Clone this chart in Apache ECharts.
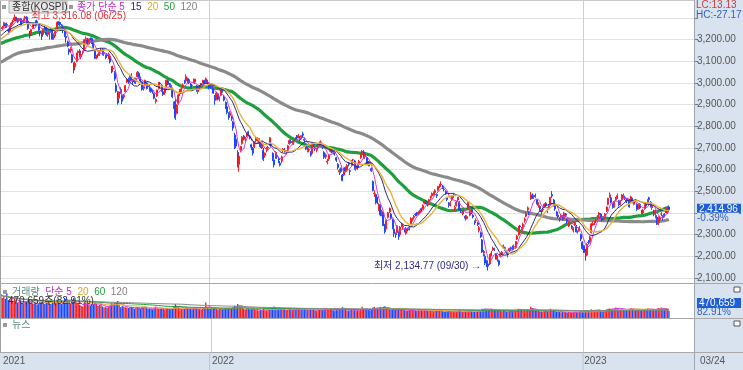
<!DOCTYPE html>
<html><head><meta charset="utf-8">
<script src="https://cdn.jsdelivr.net/npm/echarts@6/dist/echarts.min.js"></script>
<style>html,body{margin:0;padding:0;background:#fff}#c{width:743px;height:370px}</style>
</head><body><div id="c"></div>
<script>
// ---------------- DATA ----------------
const yearLabels = ['2021', '2022', '2023'];
const yearStartIdx = [0, 138, 384];
const lastDateLabel = '03/24';
const totalSlots = 457;
const gridValues = [2100,2200,2300,2400,2500,2600,2700,2800,2900,3000,3100,3200,3300];
const labelValues = [2100,2200,2300,2400,2500,2600,2700,2800,2900,3000,3100,3200];
const maPeriods = [5, 15, 20, 50, 120];
const volMaPeriods = [5, 20, 60, 120];
const hiDate = '06/25';
const loDate = '09/30';
const lcText = 'LC:13.13';
const hcText = 'HC:-27.17';

// closes before the visible range (Dec 2020 - 11 Jun 2021), used only for moving averages
const preCloses = [2771,2772,2778,2733,2759,2806,2808,2820,2873,
2944,2990,2968,3031,3152,3148,3125,3148,3149,3085,3013,3092,3114,3160,3140,3208,3140,3122,3069,2976,
3056,3096,3129,3087,3120,3091,3084,3100,3147,3163,3133,3086,3107,3079,3070,2994,3099,3013,
3043,3082,3043,3026,2996,2976,2958,3013,3054,3045,3067,3047,3066,3039,3035,3004,2996,3008,3041,3036,3044,3061,
3087,3112,3120,3127,3137,3143,3131,3135,3169,3182,3194,3198,3198,3220,3171,3177,3186,3217,3215,3181,3174,3147,
3127,3147,3178,3197,3249,3209,3161,3122,3153,3134,3173,3162,3156,3144,3168,3165,3165,3188,3204,
3221,3224,3247,3240,3253,3247,3216,3224,3249];

// daily candles [open, close, low, high]
const candles2021 = [
[3254,3252,3238,3262],[3254,3255,3243,3264],[3262,3278,3255,3282],[3270,3264,3253,3276],[3270,3267,3255,3279],[3245,3240,3224,3252],[3238,3263,3230,3266],[3266,3276,3258,3282],[3281,3286,3270,3293],[3291,3302,3285,3316.08],[3304,3294,3285,3305],[3297,3286,3276,3299],[3288,3297,3281,3300],
[3296,3282,3268,3300],[3285,3281,3265,3290],[3285,3293,3278,3298],[3298,3305,3290,3310],[3304,3285,3278,3308],[3286,3252,3245,3290],[3230,3217,3206,3240],[3225,3246,3222,3250],[3255,3271,3250,3276],[3270,3264,3254,3275],[3268,3286,3262,3290],[3285,3276,3268,3292],[3270,3244,3240,3272],[3238,3232,3215,3240],[3225,3215,3199,3232],[3225,3250,3222,3253],[3255,3254,3245,3266],[3255,3224,3218,3257],[3225,3232,3213,3238],[3225,3236,3200,3240],[3245,3243,3232,3256],[3240,3202,3200,3244],
[3208,3223,3200,3226],[3228,3237,3215,3240],[3245,3280,3242,3281],[3283,3276,3266,3286],[3280,3270,3262,3283],[3268,3260,3250,3272],[3260,3243,3230,3265],[3250,3220,3212,3255],[3215,3208,3186,3220],[3190,3171,3165,3196],[3155,3143,3130,3160],[3150,3158,3138,3165],[3130,3097,3092,3135],[3090,3060,3045,3095],[3075,3090,3065,3100],[3100,3138,3095,3140],[3140,3146,3128,3150],[3148,3128,3120,3155],[3120,3133,3110,3140],[3140,3144,3130,3150],[3150,3199,3148,3203],
[3205,3207,3192,3215],[3200,3175,3170,3208],[3180,3201,3178,3205],[3205,3203,3195,3210],[3205,3187,3180,3210],[3185,3162,3155,3190],[3150,3114,3110,3155],[3120,3125,3110,3130],[3130,3127,3115,3135],[3130,3149,3125,3152],[3150,3153,3140,3160],[3155,3130,3128,3160],[3135,3140,3125,3145],[3120,3127,3110,3132],[3130,3125,3115,3135],[3125,3133,3110,3140],[3125,3097,3090,3130],[3070,3060,3045,3078],[3065,3068,3050,3080],
[3050,3019,3010,3055],[2990,2962,2955,3000],[2955,2908,2900,2962],[2930,2959,2925,2962],[2970,2956,2950,2980],[2945,2916,2902,2955],[2935,2944,2925,2950],[2960,2988,2955,2990],[3005,3015,3000,3020],[3015,3006,2995,3025],[3010,3033,3005,3040],[3035,3013,3008,3045],[3010,3007,2995,3018],[3015,3006,2998,3025],[3005,3020,2995,3025],[3030,3049,3025,3055],[3045,3025,3018,3052],[3020,3009,3002,3030],[3005,2970,2965,3010],
[2975,2983,2965,2990],[2990,3013,2985,3015],[3000,2975,2970,3005],[2985,2983,2975,2995],[2980,2969,2960,2990],[2975,2960,2955,2980],[2965,2962,2950,2970],[2950,2930,2925,2955],[2915,2924,2905,2930],[2940,2968,2935,2970],[2975,2999,2970,3005],[3000,2997,2985,3005],[2990,2962,2960,2995],[2960,2947,2940,2970],[2955,2971,2945,2975],[2980,3013,2975,3015],[3010,2997,2990,3015],[2995,2994,2980,3000],[2990,2980,2975,2998],[2965,2936,2930,2970],[2900,2909,2880,2915],[2915,2839,2830,2925],
[2860,2899,2855,2902],[2905,2945,2900,2950],[2950,2968,2940,2972],[2960,2973,2950,2978],[2985,2991,2975,2998],[3010,3001,2995,3015],[3010,3029,3005,3040],[3020,3010,3000,3025],[3015,3001,2995,3020],[2995,2987,2980,3000],[2990,2989,2975,2995],[3010,3006,2998,3020],[3005,3017,2995,3020],[2985,2963,2960,2990],[2960,2975,2950,2978],[2985,2984,2970,2990],[2990,2998,2985,3000],[3005,3012,3000,3015],[3010,2999,2995,3015],[3000,3020,2995,3025],[3010,3000,2995,3015],[2990,2977,2970,2995]
];
const candles2022 = [
[2990,2989,2975,2995],[2985,2990,2970,2998],[2985,2953,2950,2990],[2935,2920,2900,2945],[2925,2954,2920,2960],[2950,2926,2920,2955],[2925,2927,2915,2935],[2945,2972,2940,2975],[2970,2962,2955,2980],[2935,2921,2915,2945],[2910,2890,2880,2915],[2890,2864,2855,2895],[2855,2842,2830,2865],[2850,2862,2840,2870],[2845,2834,2825,2850],[2820,2792,2780,2825],[2760,2720,2695,2770],[2740,2709,2700,2750],[2680,2614,2610,2690],[2625,2663,2591,2670],
[2690,2707,2680,2710],[2720,2750,2715,2755],[2755,2745,2735,2760],[2740,2746,2730,2750],[2755,2768,2750,2770],[2775,2771,2760,2780],[2755,2747,2740,2760],[2715,2704,2690,2720],[2700,2676,2665,2705],[2705,2729,2700,2730],[2735,2744,2725,2750],[2735,2744,2730,2750],[2730,2743,2720,2745],[2725,2706,2700,2730],[2700,2719,2695,2725],[2690,2648,2640,2700],[2665,2676,2655,2680],[2690,2699,2680,2705],
[2700,2703,2690,2710],[2715,2747,2710,2750],[2720,2713,2705,2730],[2675,2651,2640,2680],[2645,2622,2610,2650],[2660,2680,2650,2685],[2665,2661,2650,2670],[2650,2645,2630,2660],[2630,2621,2615,2640],[2640,2659,2630,2665],[2690,2695,2680,2700],[2690,2686,2680,2700],[2685,2686,2670,2690],[2690,2710,2685,2715],[2720,2735,2715,2740],[2730,2729,2720,2740],[2725,2729,2715,2735],[2730,2729,2715,2735],[2740,2741,2730,2750],[2755,2746,2740,2760],[2755,2757,2745,2765],
[2745,2739,2730,2755],[2750,2757,2740,2760],[2765,2759,2750,2775],[2740,2735,2725,2745],[2715,2695,2690,2720],[2690,2700,2680,2705],[2690,2693,2680,2700],[2680,2667,2660,2685],[2675,2716,2670,2720],[2720,2716,2705,2725],[2700,2696,2685,2705],[2690,2693,2680,2700],[2700,2718,2695,2720],[2720,2718,2710,2730],[2725,2728,2715,2735],[2710,2704,2695,2715],[2680,2657,2650,2685],[2660,2668,2650,2675],[2635,2639,2625,2650],[2650,2667,2640,2670],[2685,2695,2680,2700],
[2690,2687,2675,2700],[2690,2680,2670,2695],[2680,2677,2665,2690],[2655,2644,2635,2660],[2625,2610,2600,2630],[2590,2596,2575,2605],[2605,2592,2585,2610],[2575,2550,2546,2580],[2575,2604,2570,2610],[2610,2596,2590,2615],[2600,2620,2595,2625],[2630,2625,2615,2635],[2595,2592,2575,2600],[2620,2639,2615,2645],[2645,2647,2635,2650],[2640,2605,2600,2645],[2605,2617,2595,2620],[2620,2612,2600,2625],[2630,2638,2625,2645],[2655,2670,2650,2675],[2670,2685,2660,2690],
[2680,2658,2650,2690],[2660,2670,2650,2675],[2655,2626,2620,2660],[2630,2626,2615,2640],[2630,2625,2615,2635],[2605,2595,2590,2610],[2545,2504,2500,2550],[2490,2492,2475,2505],[2485,2447,2440,2490],[2460,2451,2440,2475],[2420,2440,2410,2445],[2435,2391,2385,2440],[2395,2408,2385,2415],[2400,2342,2340,2405],[2345,2314,2305,2350],[2330,2366,2325,2370],[2380,2401,2375,2405],[2405,2422,2400,2425],[2395,2377,2370,2400],[2370,2332,2325,2375],
[2325,2305,2290,2330],[2305,2300,2285,2310],[2310,2341,2305,2345],[2310,2292,2276,2315],[2300,2335,2295,2340],[2345,2350,2335,2355],[2335,2340,2325,2345],[2325,2317,2310,2330],[2305,2328,2300,2335],[2325,2322,2315,2330],[2335,2330,2320,2340],[2350,2375,2345,2380],[2365,2370,2360,2380],[2380,2386,2370,2390],[2395,2393,2385,2400],[2400,2393,2385,2405],[2395,2403,2390,2410],[2400,2412,2395,2415],[2420,2415,2405,2425],[2420,2435,2415,2440],[2445,2452,2440,2455],
[2455,2452,2440,2460],[2445,2439,2430,2450],[2440,2461,2435,2465],[2470,2473,2460,2480],[2480,2490,2475,2495],[2485,2493,2480,2500],[2495,2503,2485,2510],[2485,2480,2470,2490],[2505,2523,2500,2525],[2525,2527,2515,2535],[2530,2533,2520,2546],[2525,2516,2510,2530],[2510,2508,2500,2520],[2500,2492,2485,2505],[2470,2462,2455,2475],[2440,2435,2425,2450],[2440,2447,2430,2455],[2460,2477,2455,2480],[2480,2481,2470,2490],[2420,2426,2410,2435],[2435,2450,2430,2455],[2460,2472,2450,2475],
[2450,2415,2410,2455],[2410,2409,2400,2420],[2400,2403,2390,2410],[2410,2410,2395,2420],[2385,2376,2365,2390],[2375,2384,2370,2390],[2420,2449,2415,2450],[2390,2411,2385,2415],[2415,2401,2395,2420],[2390,2382,2375,2395],[2360,2355,2345,2365],[2365,2367,2355,2375],[2355,2347,2340,2360],[2320,2332,2310,2340],[2310,2290,2285,2315],[2275,2220,2215,2280],[2215,2223,2200,2230],[2200,2169,2160,2210],[2180,2170,2150,2185],[2165,2155,2134.77,2170],
[2165,2209,2160,2210],[2205,2215,2200,2225],[2230,2237,2225,2245],[2235,2232,2225,2240],[2210,2192,2185,2215],[2185,2202,2175,2205],[2180,2162,2155,2185],[2200,2212,2195,2215],[2210,2219,2205,2225],[2240,2249,2235,2255],[2240,2237,2225,2245],[2225,2218,2210,2230],[2210,2213,2195,2220],[2225,2236,2220,2240],[2240,2235,2225,2245],[2240,2235,2230,2250],[2245,2245,2235,2255],[2240,2268,2235,2270],[2280,2293,2275,2300],
[2300,2335,2295,2340],[2340,2336,2330,2345],[2310,2329,2305,2335],[2335,2348,2330,2355],[2365,2371,2355,2380],[2385,2399,2380,2405],[2415,2424,2405,2430],[2405,2402,2390,2410],[2465,2484,2460,2497],[2480,2474,2465,2490],[2475,2480,2465,2485],[2480,2477,2470,2490],[2460,2442,2440,2465],[2435,2444,2425,2450],[2430,2419,2410,2435],[2410,2405,2395,2415],[2415,2418,2405,2425],[2430,2441,2425,2445],[2445,2437,2430,2450],[2410,2408,2400,2420],[2420,2433,2415,2440],[2440,2472,2435,2475],
[2485,2479,2470,2501],[2460,2434,2430,2465],[2440,2419,2410,2445],[2405,2393,2385,2410],[2390,2382,2375,2395],[2375,2371,2360,2380],[2380,2389,2375,2395],[2385,2372,2365,2390],[2375,2399,2370,2405],[2395,2390,2380,2400],[2370,2361,2350,2375],[2340,2360,2335,2365],[2350,2352,2340,2360],[2340,2333,2325,2345],[2320,2328,2310,2335],[2345,2356,2340,2360],[2340,2313,2310,2345],[2315,2317,2305,2320],[2320,2332,2315,2340],[2300,2280,2270,2305],[2265,2236,2230,2270]
];
const candles2023 = [
[2249,2225,2215,2252],[2230,2218,2180,2235],[2205,2255,2200,2260],[2265,2264,2255,2275],[2265,2289,2260,2295],[2310,2350,2305,2355],[2345,2351,2340,2360],[2355,2359,2345,2365],[2365,2365,2355,2375],[2375,2386,2370,2390],[2390,2399,2385,2405],[2395,2379,2375,2400],[2380,2368,2360,2385],[2370,2380,2365,2385],[2385,2395,2380,2400],[2410,2428,2405,2430],[2440,2468,2435,2470],[2475,2484,2470,2495],[2470,2450,2445,2475],[2440,2425,2420,2445],
[2430,2449,2425,2455],[2460,2468,2455,2475],[2470,2480,2465,2490],[2455,2438,2430,2460],[2440,2452,2435,2460],[2460,2483,2455,2488],[2480,2481,2470,2490],[2470,2469,2460,2480],[2460,2453,2445,2470],[2465,2465,2455,2470],[2460,2428,2425,2465],[2450,2475,2445,2480],[2465,2451,2445,2470],[2440,2455,2435,2460],[2460,2458,2450,2465],[2440,2417,2410,2445],[2420,2439,2415,2445],[2440,2423,2420,2445],[2410,2402,2395,2415],[2400,2412,2395,2420],
[2420,2432,2415,2440],[2440,2432,2425,2445],[2445,2462,2440,2465],[2470,2463,2455,2475],[2450,2431,2425,2455],[2425,2432,2415,2440],[2410,2394,2385,2415],[2395,2410,2375,2415],[2380,2348,2345,2390],[2350,2379,2345,2385],[2370,2377,2355,2385],[2395,2395,2385,2405],[2385,2379,2365,2390],[2395,2389,2380,2400],[2410,2417,2400,2420],[2400,2424.48,2395,2430],[2428,2414.96,2410,2435]
];

// daily volume (in units of 1,000 of the displayed count)
const vol2021 = [1500,1300,1400,1250,1600,1150,1200,1350,1100,1300,1150,1000,1050,
1150,1000,950,1100,1050,1200,1150,1000,950,900,950,880,920,1000,1050,1000,900,1100,1000,950,900,1050,
1050,980,1200,1000,950,900,1050,1300,1250,1200,1100,950,1150,1300,1100,1000,900,850,800,750,950,
1000,950,850,800,850,900,1050,950,800,850,900,750,700,700,680,700,850,950,900,
950,1000,1100,850,700,800,750,700,680,650,700,720,680,600,650,700,680,620,700,
650,700,680,600,620,580,560,700,750,650,600,580,620,600,550,650,620,580,560,600,750,900,
800,700,650,600,620,580,700,650,600,580,560,620,650,600,580,560,550,620,700,1000,650,600];
const vol2022 = [600,700,650,700,600,550,580,620,560,580,620,650,600,580,620,700,800,750,900,800,
750,700,600,550,580,600,550,560,600,580,520,500,480,520,500,600,520,480,
550,600,620,700,750,650,600,580,620,600,650,580,520,540,600,560,500,520,540,560,580,
560,520,600,620,580,540,520,560,600,540,500,480,560,520,540,500,560,520,600,560,580,
520,500,480,560,620,600,580,700,650,520,500,480,540,560,500,520,480,500,460,560,720,
580,520,560,540,500,560,680,720,650,640,620,700,580,720,760,650,600,560,520,560,
600,550,560,620,580,540,520,500,480,460,480,520,560,500,480,460,520,500,480,540,560,
520,480,500,460,480,440,460,480,500,520,480,440,420,400,420,460,440,420,400,480,420,440,
520,460,420,400,440,400,480,520,460,440,420,400,460,480,520,600,580,620,560,540,
560,600,540,520,480,500,520,460,440,500,460,420,400,440,420,380,440,520,560,
600,560,520,500,480,540,560,520,720,640,560,520,480,460,440,420,400,440,460,420,440,600,
520,480,460,420,440,400,380,400,420,380,360,400,380,340,360,380,360,340,400,460,420];
const vol2023 = [400,420,480,460,440,560,520,500,480,520,540,460,440,420,460,560,600,620,580,560,
620,680,640,600,560,620,580,540,520,560,600,640,600,560,520,500,540,520,500,520,
580,560,620,600,540,520,560,520,600,640,620,680,600,560,620,567.67,470.659];

// ---------------- BUILD ----------------
const candles = candles2021.concat(candles2022, candles2023);
const vols = vol2021.concat(vol2022, vol2023);
const N = candles.length;
const cats = [];
for (let i = 0; i < totalSlots; i++) cats.push(String(i));
const closes = candles.map(d => d[1]);
const allCloses = preCloses.concat(closes);

function movingAvg(arr, p, offset) {
  const out = [];
  for (let i = offset; i < arr.length; i++) {
    let s = 0, n = 0;
    for (let k = Math.max(0, i - p + 1); k <= i; k++) { s += arr[k]; n++; }
    out.push(+(s / n).toFixed(2));
  }
  return out;
}
const fmt2 = v => v.toLocaleString('en-US', {minimumFractionDigits: 2, maximumFractionDigits: 2});
const fmt0 = v => Math.round(v).toLocaleString('en-US');

const NUMF = "'Liberation Sans',Arial,sans-serif";
const KRF = "'Liberation Sans','Noto Sans CJK KR',sans-serif";
const maColors = ['#d23cd2', '#2a2a78', '#e6b43a', '#1e9e3c', '#8a8a8a'];
const maWidths = [1, 1, 1.4, 3.2, 3.2];
const volMaColors = ['#d23cd2', '#e6b43a', '#1e9e3c', '#8a8a8a'];
const UP = '#ff1c1c', DOWN = '#1a48ff';
const STRIP = '#d9e3ef';

const series = [];
maPeriods.forEach((p, k) => {
  series.push({type: 'line', xAxisIndex: 0, yAxisIndex: 0, data: movingAvg(allCloses, p, preCloses.length),
    showSymbol: false, silent: true, z: (p >= 50 ? 2 : 4),
    lineStyle: {color: maColors[k], width: maWidths[k]}});
});
series.push({type: 'candlestick', xAxisIndex: 0, yAxisIndex: 0, data: candles, z: 3, barWidth: 1.5,
  itemStyle: {color: UP, color0: DOWN, borderColor: UP, borderColor0: DOWN, borderWidth: 1}});
series.push({type: 'bar', xAxisIndex: 1, yAxisIndex: 1, barCategoryGap: '12%', silent: true,
  data: vols.map((v, i) => ({value: v, itemStyle: {color: candles[i] && candles[i][1] >= candles[i][0] ? UP : DOWN}}))});
volMaPeriods.forEach((p, k) => {
  series.push({type: 'line', xAxisIndex: 1, yAxisIndex: 1, data: movingAvg(vols, p, 0),
    showSymbol: false, silent: true, z: 4, lineStyle: {color: volMaColors[k], width: 1}});
});
series.push({type: 'line', xAxisIndex: 2, yAxisIndex: 2, data: [], silent: true});

const splitFn = (i) => yearStartIdx.indexOf(i) > 0;
function xAx(g, withLabels) {
  return {type: 'category', gridIndex: g, data: cats, boundaryGap: true,
    axisLine: {show: false}, axisTick: {show: false},
    splitLine: {show: true, interval: splitFn, lineStyle: {color: '#cfcfcf', width: 1}},
    axisLabel: withLabels ? {show: true, interval: (i) => yearStartIdx.indexOf(i) >= 0,
      formatter: (v) => yearLabels[yearStartIdx.indexOf(Number(v))] || '',
      align: 'left', margin: 4, color: '#555', fontSize: 10, fontFamily: NUMF} : {show: false}};
}

const chart = echarts.init(document.getElementById('c'), null, {renderer: 'canvas'});
chart.setOption({
  animation: false,
  backgroundColor: '#ffffff',
  grid: [
    {left: 0, right: 49, top: 0, height: 283},
    {left: 0, right: 49, top: 284, height: 34},
    {left: 0, right: 49, top: 319, height: 33}
  ],
  xAxis: [xAx(0, false), xAx(1, false), xAx(2, true)],
  yAxis: [
    {type: 'value', gridIndex: 0, position: 'right', min: 2077, max: 3383, scale: true,
      axisLine: {show: false},
      axisTick: {show: true, length: 4, customValues: gridValues, lineStyle: {color: '#777'}},
      axisLabel: {show: true, customValues: labelValues, formatter: v => fmt2(v), color: '#555', fontSize: 10, fontFamily: NUMF, margin: 3},
      splitLine: {show: true, lineStyle: {color: '#e3e3e3', width: 1}}},
    {type: 'value', gridIndex: 1, min: 0, max: 2200, show: false},
    {type: 'value', gridIndex: 2, min: 0, max: 1, show: false}
  ],
  series: series
});

// ---------------- ANNOTATIONS ----------------
let hiIdx = 0, loIdx = 0;
candles.forEach((d, i) => { if (d[3] > candles[hiIdx][3]) hiIdx = i; if (d[2] < candles[loIdx][2]) loIdx = i; });
const hiVal = candles[hiIdx][3], loVal = candles[loIdx][2];
const hiPx = chart.convertToPixel({xAxisIndex: 0, yAxisIndex: 0}, [hiIdx, hiVal]);
const loPx = chart.convertToPixel({xAxisIndex: 0, yAxisIndex: 0}, [loIdx, loVal]);
const lastClose = closes[N - 1], prevClose = closes[N - 2];
const lastPx = chart.convertToPixel({xAxisIndex: 0, yAxisIndex: 0}, [N - 1, lastClose]);
const chg = (lastClose - prevClose) / prevClose * 100;
const lastVol = vols[N - 1], prevVol = vols[N - 2];
const volPct = lastVol / prevVol * 100;

const W = 743, H = 370;
function txt(x, y, text, fill, size, align, extra) {
  return Object.assign({type: 'text', x: x, y: y, z: 100, silent: true,
    style: Object.assign({text: text, fill: fill, fontSize: size || 10, fontFamily: KRF, align: align || 'left', verticalAlign: 'middle'}, extra || {})});
}
function ln(x1, y1, x2, y2, c) {
  return {type: 'line', z: 90, silent: true, shape: {x1: x1, y1: y1, x2: x2, y2: y2}, style: {stroke: c, lineWidth: 1}};
}
function sq(x, y) {
  return {type: 'rect', z: 100, silent: true, shape: {x: x, y: y, width: 4, height: 4}, style: {fill: '#9a9a9a'}};
}
function rich(x, y, parts) {
  const text = parts.map((p, i) => '{s' + i + '|' + p[0] + '}').join('  ');
  const r = {};
  parts.forEach((p, i) => { r['s' + i] = {fill: p[1], fontSize: 10, fontFamily: KRF}; });
  return {type: 'text', x: x, y: y, z: 100, silent: true,
    style: {text: text, rich: r, fontSize: 10, fontFamily: KRF, align: 'left', verticalAlign: 'middle'}};
}
const g = [
  {type: 'rect', z: -10, silent: true, shape: {x: 694, y: 0, width: 49, height: H}, style: {fill: STRIP}},
  {type: 'rect', z: -10, silent: true, shape: {x: 0, y: 352, width: W, height: 18}, style: {fill: STRIP}},
  ln(0.5, 0, 0.5, 352, '#a0a0a0'),
  ln(0, 0.5, 694, 0.5, '#c8c8c8'),
  ln(694.5, 0, 694.5, H, '#9aa6b2'),
  ln(0, 283.5, W, 283.5, '#a8a8a8'),
  ln(0, 318.5, W, 318.5, '#a8a8a8'),
  ln(0, 352.5, W, 352.5, '#a8a8a8'),
  ln(209.6, 352, 209.6, H, '#b8c4d0'),
  ln(583.1, 352, 583.1, H, '#b8c4d0'),
  // price legend
  sq(2, 5),
  {type: 'rect', z: 99, silent: true, shape: {x: 9, y: 1, width: 58, height: 12}, style: {fill: '#e6e6e6', stroke: '#b0b0b0', lineWidth: 1}},
  txt(12, 7.5, '종합(KOSPI)', '#333', 10),
  sq(69, 5),
  rich(77, 7.5, [['종가 단순 5', '#c02cc6'], ['15', '#2a2a78'], ['20', '#d8a820'], ['50', '#1e9e3c'], ['120', '#808080']]),
  // high / low
  txt(hiPx[0] + 7, hiPx[1] + 1.5, '←최고 ' + fmt2(hiVal) + ' (' + hiDate + ')', '#e03030', 10),
  txt(loPx[0] - 7, loPx[1] - 4, '최저 ' + fmt2(loVal) + ' (' + loDate + ') →', '#2c2c8c', 10, 'right'),
  // right axis info
  txt(696, 5, lcText, '#d03a3a', 10),
  txt(696, 15, hcText, '#2f5fbf', 10),
  txt(697, lastPx[1] - 1, fmt2(lastClose), '#ffffff', 10, 'left', {backgroundColor: '#1f5fd6', padding: [0, 2, 0, 2], width: 40}),
  txt(697, lastPx[1] + 8, (chg >= 0 ? '+' : '') + chg.toFixed(2) + '%', '#2f5fbf', 10, 'left', {backgroundColor: STRIP, width: 42}),
  // volume panel
  sq(3, 290),
  rich(12, 292, [['거래량', '#5a8c80'], ['단순 5', '#c02cc6'], ['20', '#d8a820'], ['60', '#1e9e3c'], ['120', '#808080']]),
  txt(8, 301, fmt0(lastVol * 1000) + '주(' + volPct.toFixed(2) + '%)', '#333', 10),
  {type: 'rect', z: 100, silent: true, shape: {x: 734, y: 287, width: 6, height: 5}, style: {fill: '#fff', stroke: '#555', lineWidth: 1}},
  txt(697, 303, fmt0(lastVol * 1000), '#ffffff', 10, 'left', {backgroundColor: '#1f5fd6', padding: [0, 2, 0, 2], width: 40}),
  txt(697, 312, volPct.toFixed(2) + '%', '#2f5fbf', 10),
  // news panel
  sq(3, 323),
  txt(12, 325, '뉴스', '#5a8c80', 10),
  {type: 'rect', z: 100, silent: true, shape: {x: 734, y: 321, width: 6, height: 5}, style: {fill: '#fff', stroke: '#555', lineWidth: 1}},
  // date strip
  txt(700, 361, lastDateLabel, '#555', 10)
];
chart.setOption({graphic: g});
</script>
</body></html>
